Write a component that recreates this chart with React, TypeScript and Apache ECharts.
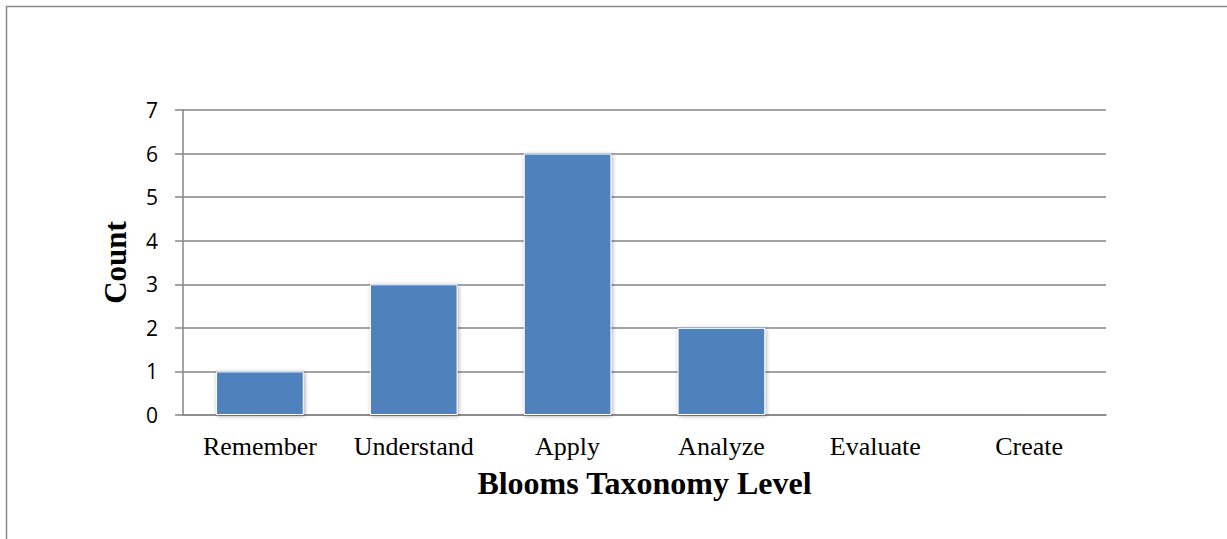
import React, { useEffect, useRef } from "react";
import * as echarts from "echarts";

const categories = ["Remember", "Understand", "Apply", "Analyze", "Evaluate", "Create"];
const counts = [1, 3, 6, 2, 0, 0];
const yTicks = [0, 1, 2, 3, 4, 5, 6, 7];

export default function App() {
  const ref = useRef<HTMLDivElement>(null);
  useEffect(() => {
    if (!ref.current) return;
    const chart = echarts.init(ref.current, undefined, { renderer: "svg" });
    chart.setOption({
      animation: false,
      backgroundColor: "#ffffff",
      graphic: [
        {
          type: "rect",
          shape: { x: 6.5, y: 6.5, width: 1400, height: 800 },
          style: { fill: "none", stroke: "#8a8a8a", lineWidth: 1.5 },
          silent: true,
        },
      ],
      grid: { left: 183, right: 121, top: 110, bottom: 124, containLabel: false },
      xAxis: {
        type: "category",
        data: categories,
        axisLine: { lineStyle: { color: "#868686", width: 1.5 } },
        axisTick: { show: false },
        axisLabel: {
          fontFamily: "Liberation Serif",
          fontSize: 26,
          color: "#000",
          margin: 18,
          interval: 0,
          hideOverlap: false,
        },
        name: "Blooms Taxonomy Level",
        nameLocation: "middle",
        nameGap: 52,
        nameTextStyle: {
          fontFamily: "Liberation Serif",
          fontSize: 32,
          fontWeight: "bold",
          color: "#000",
        },
      },
      yAxis: {
        type: "value",
        min: yTicks[0],
        max: yTicks[yTicks.length - 1],
        interval: 1,
        axisLine: { show: true, lineStyle: { color: "#868686", width: 1.5 } },
        axisTick: { show: true, length: 8, lineStyle: { color: "#868686", width: 1.5 } },
        splitLine: { lineStyle: { color: "#868686", width: 1.5 } },
        axisLabel: {
          fontFamily: "Open Sans",
          fontSize: 21,
          color: "#000",
          margin: 25,
        },
        name: "Count",
        nameLocation: "middle",
        nameGap: 52,
        nameTextStyle: {
          fontFamily: "Liberation Serif",
          fontSize: 31,
          fontWeight: "bold",
          color: "#000",
        },
      },
      series: [
        {
          type: "bar",
          data: counts,
          barCategoryGap: "43%",
          itemStyle: {
            color: "#4F81BD",
            borderColor: "#ffffff",
            borderWidth: 1,
            shadowBlur: 4,
            shadowColor: "rgba(0,0,0,0.35)",
            shadowOffsetX: 1,
            shadowOffsetY: 1,
          },
        },
      ],
    });
    return () => chart.dispose();
  }, []);
  return (
    <div
      ref={ref}
      style={{ position: "absolute", left: 0, top: 0, width: 1227, height: 539 }}
    />
  );
}
